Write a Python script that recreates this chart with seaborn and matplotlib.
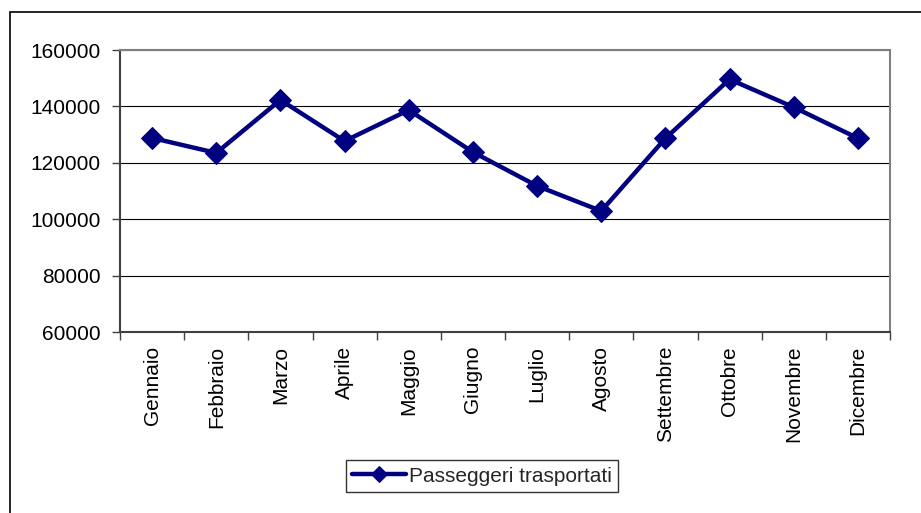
import matplotlib
matplotlib.use("Agg")
import matplotlib.pyplot as plt
from matplotlib.patches import Rectangle
from matplotlib.ticker import FixedLocator, NullFormatter
import seaborn as sns
import pandas as pd

mesi = ["Gennaio", "Febbraio", "Marzo", "Aprile", "Maggio", "Giugno",
        "Luglio", "Agosto", "Settembre", "Ottobre", "Novembre", "Dicembre"]
passeggeri = [128800, 123500, 142300, 127700, 138700, 123800,
              111800, 102900, 128700, 149600, 139700, 128700]
serie = "Passeggeri trasportati"
y_ticks = [60000, 80000, 100000, 120000, 140000, 160000]

sns.set_theme(style="white")
plt.rcParams["font.family"] = ["Liberation Sans", "DejaVu Sans"]

df = pd.DataFrame({"mese": mesi, "valore": passeggeri, "serie": serie})

fig = plt.figure(figsize=(9.21, 5.13), dpi=100)
fig.patch.set_facecolor("white")
ax = fig.add_axes([120 / 921, 1 - 332 / 513, 770 / 921, 282 / 513])

# chart frame (outer border)
fig.patches.append(Rectangle((10 / 921, -0.1), 1.2, 1 - 12 / 513 + 0.1,
                             transform=fig.transFigure, fill=False,
                             edgecolor="black", linewidth=1.2, zorder=0))

sns.lineplot(data=df, x="mese", y="valore", ax=ax, color="#000080",
             linewidth=3.2, marker="D", markersize=11,
             markeredgecolor="#000080", label=serie, sort=False)

n = len(mesi)
ax.set_xlim(-0.5, n - 0.5)
ax.set_ylim(y_ticks[0], y_ticks[-1])
ax.set_yticks(y_ticks)
ax.set_yticklabels([str(v) for v in y_ticks], fontsize=15, color="black")

# category labels centred, tick marks on category boundaries
ax.xaxis.set_major_locator(FixedLocator([i - 0.5 for i in range(n + 1)]))
ax.xaxis.set_major_formatter(NullFormatter())
ax.xaxis.set_minor_locator(FixedLocator(list(range(n))))
ax.set_xticklabels(mesi, minor=True, rotation=90, fontsize=15,
                   va="top", ha="center", color="black")
ax.tick_params(axis="x", which="minor", length=0, pad=10)
ax.tick_params(axis="x", which="major", direction="out", length=6,
               width=1, color="#404040", bottom=True)
ax.tick_params(axis="y", direction="out", length=6, width=1,
               color="#404040", left=True, pad=8)
ax.set_xlabel("")
ax.set_ylabel("")

ax.yaxis.grid(True, color="black", linewidth=0.8)
ax.set_axisbelow(True)
for side in ["left", "bottom"]:
    ax.spines[side].set_color("#404040")
    ax.spines[side].set_linewidth(1.5)
for side in ["top", "right"]:
    ax.spines[side].set_color("#808080")
    ax.spines[side].set_linewidth(1.5)

ax.legend(loc="center", bbox_to_anchor=(482 / 921, 1 - 476 / 513),
          bbox_transform=fig.transFigure, frameon=True, fancybox=False,
          edgecolor="black", fontsize=15, handlelength=2.6, markerscale=0.75,
          borderpad=0.3, handletextpad=0.15, borderaxespad=0)
ax.get_legend().get_frame().set_linewidth(1.0)

fig.savefig("out.png", dpi=100, facecolor="white")
